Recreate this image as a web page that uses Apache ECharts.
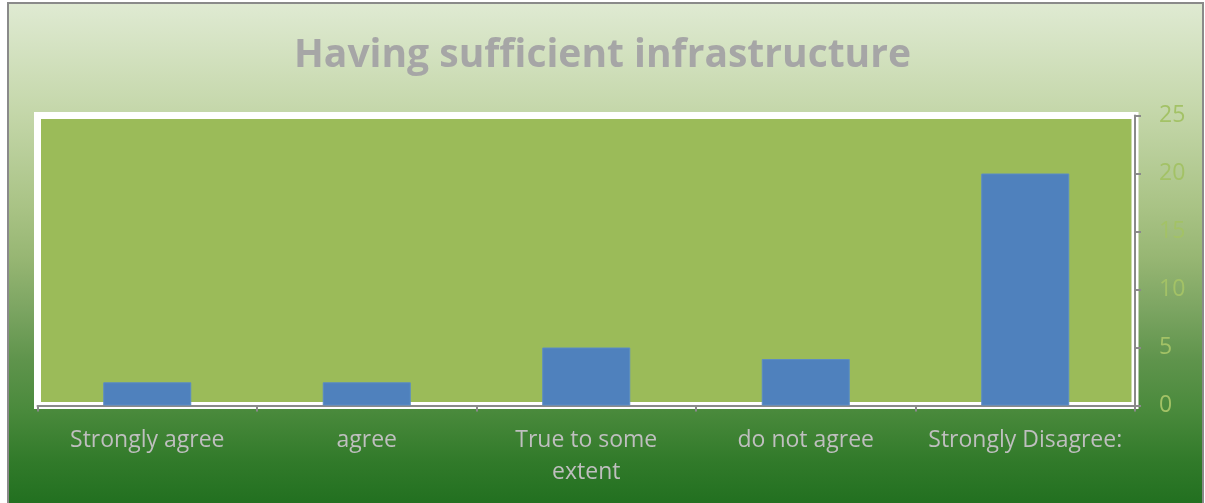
<!DOCTYPE html>
<html>
<head>
<meta charset="utf-8">
<script src="https://cdn.jsdelivr.net/npm/echarts@6/dist/echarts.min.js"></script>
<style>
  html, body { margin: 0; padding: 0; background: #fff; overflow: hidden; }
  #frame {
    position: absolute; left: 7px; top: 2px; width: 1197px; height: 510px;
    box-sizing: border-box;
    border-left: 2px solid #8a8a8a; border-top: 2px solid #8a8a8a; border-right: 2px solid #8a8a8a;
    background: linear-gradient(to bottom, #dfead2 0%, #c6d8ac 20%, #a9c385 40%, #97b673 50%, #7ca562 60%, #5f944c 70%, #4a8a3c 80%, #317a2a 90%, #1f6e1e 100%);
  }
  #chart { position: absolute; left: 0; top: 0; width: 1205px; height: 503px; }
</style>
</head>
<body>
<div id="frame"></div>
<div id="chart"></div>
<script>
// 数据
const categories = ['Strongly agree', 'agree', 'True to some\nextent', 'do not agree', 'Strongly Disagree:']
const values = [2, 2, 5, 4, 20]
const yTicks = { min: 0, max: 25, interval: 5 }

const chart = echarts.init(document.getElementById('chart'))
const option = {
  backgroundColor: 'transparent',
  title: {
    text: 'Having sufficient infrastructure',
    left: 'center',
    top: 31,
    textStyle: {
      fontFamily: 'Open Sans',
      fontWeight: 'bold',
      fontSize: 39,
      color: '#a6a6a6'
    }
  },
  grid: {
    left: 37.5,
    right: 70,
    top: 115.5,
    bottom: 97.5,
    show: true,
    backgroundColor: '#9bbb59',
    borderColor: '#ffffff',
    borderWidth: 7
  },
  xAxis: {
    type: 'category',
    data: categories,
    axisLine: { show: true, lineStyle: { color: '#8a8a8a', width: 2 } },
    axisTick: { show: true, interval: 0, length: 6, lineStyle: { color: '#8a8a8a', width: 2 } },
    axisLabel: {
      interval: 0,
      margin: 19,
      color: '#bfbfbf',
      fontFamily: 'Open Sans',
      fontSize: 23,
      lineHeight: 32
    }
  },
  yAxis: {
    type: 'value',
    position: 'right',
    min: yTicks.min,
    max: yTicks.max,
    interval: yTicks.interval,
    splitLine: { show: false },
    axisLine: { show: true, lineStyle: { color: '#8a8a8a', width: 2 } },
    axisTick: { show: true, length: 6, lineStyle: { color: '#8a8a8a', width: 2 } },
    axisLabel: {
      margin: 24,
      color: '#a3c266',
      fontFamily: 'Open Sans',
      fontSize: 23
    }
  },
  series: [
    {
      type: 'bar',
      data: values,
      barWidth: 88,
      itemStyle: { color: '#4f81bd', borderColor: '#5b8cc6', borderWidth: 1 }
    }
  ]
}
chart.setOption(option)
</script>
</body>
</html>
